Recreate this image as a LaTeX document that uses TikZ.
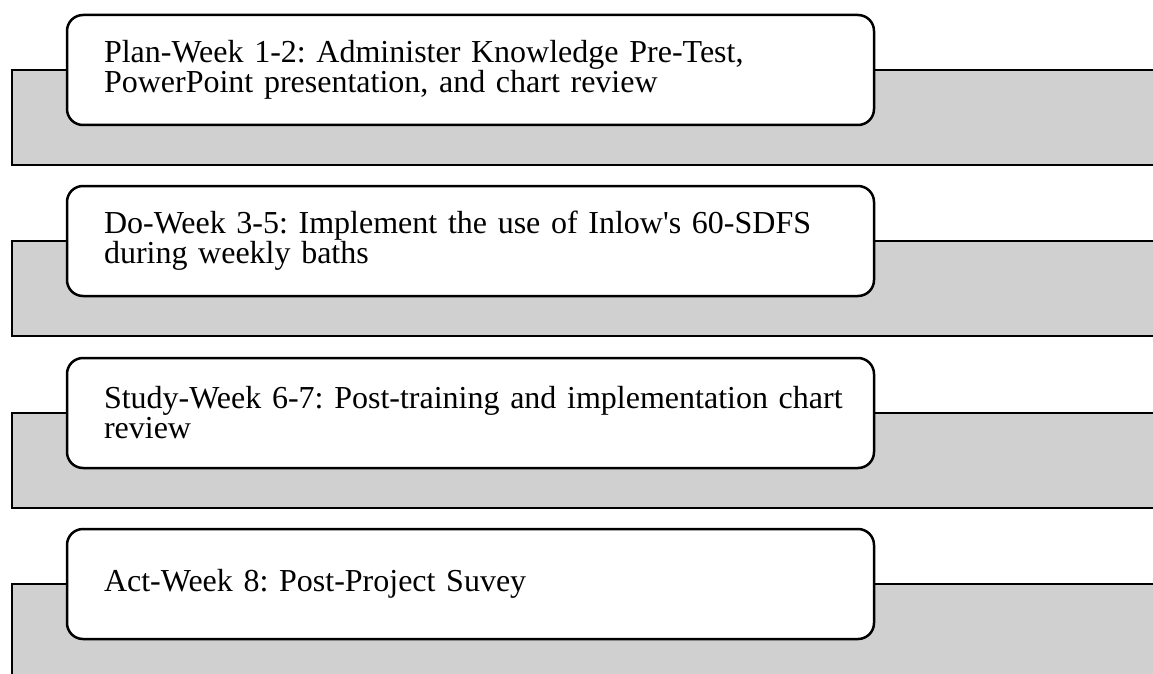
\documentclass[tikz,border=0pt]{standalone}
\usepackage{fontspec}
\setmainfont{Liberation Serif}[Ligatures=TeXOff]
\definecolor{bandgray}{RGB}{208,208,208}
\frenchspacing
\hbadness=10000 \hfuzz=50pt
\begin{document}
\begin{tikzpicture}[x=1pt,y=-1pt,
  band/.style={draw=black, fill=bandgray, line width=2.5pt, rectangle, anchor=north west,
    minimum width=1160pt, minimum height=95pt, inner sep=0pt, outer sep=0pt},
  stepbox/.style={draw=black, fill=white, line width=2.5pt, rectangle, rounded corners=16pt,
    anchor=north west, minimum width=807pt, minimum height=110pt, inner xsep=0pt, inner ysep=0pt,
    outer sep=0pt, text width=733pt, align=left,
    font=\fontsize{32pt}{30pt}\selectfont}]
\path[use as bounding box, clip] (0,0) rectangle (1153,674);
\fill[white] (0,0) rectangle (1153,674);
\node[band] (r1) at (12,70) {};
\node[band] (r2) at (12,241) {};
\node[band] (r3) at (12,413) {};
\node[band] (r4) at (12,584) {};
\node[stepbox] (b1) at (67,15) {Plan-Week 1-2: Administer Knowledge Pre-Test,\\PowerPoint presentation, and chart review};
\node[stepbox] (b2) at (67,186) {\mbox{Do-Week 3-5: Implement the use of Inlow's 60-SDFS}\\during weekly baths};
\node[stepbox] (b3) at (67,358) {\mbox{Study-Week 6-7: Post-training and implementation chart}\\review};
\node[stepbox] (b4) at (67,529) {Act-Week 8: Post-Project Suvey};
\end{tikzpicture}
\end{document}
